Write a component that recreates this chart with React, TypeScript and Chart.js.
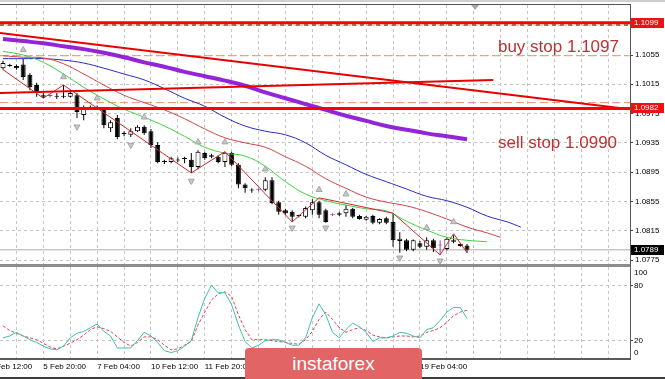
import React, { useEffect, useRef } from "react";
import { Chart, registerables } from "chart.js";

Chart.register(...registerables);

// ---------------- data ----------------
const OPEN = [1.1037,1.1041,1.1040,1.1042,1.1028,1.1014,1.1000,1.0999,1.0999,1.0998,
  1.0998,1.1000,1.0973,1.0983,1.0984,1.0983,1.0955,1.0969,1.0948,1.0946,
  1.0951,1.0957,1.0951,1.0932,1.0910,1.0909,1.0912,1.0913,1.0912,1.0902,
  1.0921,1.0916,1.0916,1.0909,1.0921,1.0905,1.0878,1.0871,1.0871,1.0871,
  1.0884,1.0854,1.0843,1.0841,1.0836,1.0834,1.0843,1.0854,1.0843,1.0837,
  1.0837,1.0839,1.0845,1.0835,1.0830,1.0835,1.0826,1.0832,1.0827,1.0801,
  1.0802,1.0789,1.0798,1.0793,1.0802,1.0795,1.0790,1.0802,1.0797,1.0795];
const HIGH = [1.1047,1.1043,1.1042,1.1050,1.1030,1.1017,1.1003,1.1001,1.1003,1.1014,
  1.1005,1.1003,1.0986,1.0986,1.0986,1.0984,1.0966,1.0973,1.0951,1.0955,
  1.0959,1.0959,1.0954,1.0936,1.0912,1.0916,1.0915,1.0916,1.0921,1.0925,
  1.0923,1.0920,1.0918,1.0923,1.0923,1.0907,1.0880,1.0873,1.0873,1.0888,
  1.0888,1.0856,1.0845,1.0843,1.0837,1.0848,1.0858,1.0856,1.0845,1.0839,
  1.0841,1.0850,1.0846,1.0837,1.0835,1.0837,1.0832,1.0834,1.0839,1.0813,
  1.0804,1.0803,1.0801,1.0806,1.0804,1.0802,1.0806,1.0809,1.0798,1.0797];
const LOW = [1.1035,1.1039,1.1035,1.1021,1.1007,1.0998,1.0996,1.0997,1.0995,1.0996,
  1.0997,1.0969,1.0966,1.0981,1.0981,1.0955,1.0950,1.0940,1.0944,1.0943,
  1.0950,1.0946,1.0928,1.0907,1.0906,1.0907,1.0909,1.0907,1.0894,1.0899,
  1.0912,1.0914,1.0907,1.0902,1.0903,1.0873,1.0867,1.0867,1.0869,1.0869,
  1.0851,1.0837,1.0837,1.0827,1.0833,1.0832,1.0837,1.0832,1.0826,1.0835,
  1.0835,1.0834,1.0832,1.0830,1.0829,1.0824,1.0824,1.0824,1.0793,1.0785,
  1.0787,1.0787,1.0791,1.0789,1.0786,1.0782,1.0788,1.0798,1.0793,1.0785];
const CLOSE = [1.1044,1.1040,1.1037,1.1025,1.1011,1.1003,1.0998,1.0999,1.0998,1.0999,
  1.1003,1.0977,1.0983,1.0984,1.0983,1.0959,1.0963,1.0943,1.0947,1.0951,
  1.0957,1.0948,1.0932,1.0909,1.0909,1.0914,1.0911,1.0914,1.0902,1.0923,
  1.0914,1.0918,1.0909,1.0921,1.0905,1.0878,1.0873,1.0870,1.0871,1.0884,
  1.0853,1.0841,1.0839,1.0834,1.0835,1.0846,1.0854,1.0837,1.0827,1.0837,
  1.0839,1.0845,1.0834,1.0831,1.0834,1.0826,1.0831,1.0826,1.0802,1.0804,
  1.0789,1.0802,1.0793,1.0802,1.0791,1.0795,1.0804,1.0800,1.0794,1.0789];

const LIPS_BARS = [0,3,6,9,12,15,18,21,24,27,30,33,36,39,42,45,48,51,54,57,60,63,66,69,72];
const LIPS = [1.1060,1.1055,1.1045,1.1029,1.1011,1.0995,1.0981,1.0970,1.0958,1.0944,1.0929,1.0921,1.0917,
  1.0903,1.0882,1.0865,1.0856,1.0850,1.0845,1.0842,1.0828,1.0816,1.0806,1.0802,1.0800];
const TEETH_BARS = [0,3,6,9,12,15,18,21,24,27,30,33,36,39,42,45,48,51,54,57,60,63,66,69,72,74];
const TEETH = [1.1054,1.1052,1.1051,1.1043,1.1029,1.1014,1.1000,1.0990,1.0980,1.0968,1.0954,1.0942,1.0935,
  1.0929,1.0916,1.0903,1.0886,1.0873,1.0861,1.0854,1.0849,1.0841,1.0831,1.0820,1.0812,1.0806];
const JAW_BARS = [0,3,6,9,12,15,18,21,24,27,30,33,36,39,42,45,48,51,54,57,60,63,66,69,72,75,77];
const JAW = [1.1050,1.1050,1.1050,1.1048,1.1044,1.1037,1.1029,1.1021,1.1009,1.0996,1.0985,1.0970,1.0958,
  1.0951,1.0946,1.0935,1.0918,1.0905,1.0892,1.0882,1.0872,1.0862,1.0856,1.0847,1.0835,1.0827,1.0820];
const SLOW_MA_BARS = [0,3,6,9,12,15,18,21,24,27,30,33,36,39,42,45,48,51,54,57,60,63,66,69];
const SLOW_MA = [1.1077,1.1074,1.1071,1.1067,1.1063,1.1058,1.1052,1.1045,1.1039,1.1032,1.1026,1.1020,
  1.1013,1.1004,1.0996,1.0988,1.0980,1.0972,1.0965,1.0958,1.0953,1.0948,1.0944,1.0940];

const ZIGZAG_BARS = [0,6,9,28,33,43,47,58,65,67,69];
const ZIGZAG = [1.1035,1.0996,1.1014,1.0894,1.0923,1.0827,1.0860,1.0839,1.0782,1.0811,1.0785];

const FRACTAL_UP_BARS = [3,9,14,21,29,33,39,47,51,63,67];
const FRACTAL_UP = [1.1062,1.1025,1.0996,1.0970,1.0936,1.0936,1.0899,1.0871,1.0865,1.0819,1.0827];
const FRACTAL_DOWN_BARS = [11,19,28,43,48,59,65];
const FRACTAL_DOWN = [1.0957,1.0932,1.0883,1.0819,1.0819,1.0778,1.0774];

const TREND_A_BARS = [-0.45, 93.2];
const TREND_A = [1.1085, 1.0981];
const TREND_B_BARS = [-0.45, 72.9];
const TREND_B = [1.1003, 1.1021];

const RED_LEVELS = [1.1099, 1.0982];
const DASH_LEVELS = [1.1054, 1.0990];
const OLIVE_LEVEL = 1.1096;
const LAST_PRICE = 1.0789;

const NOTE_TEXTS = ["buy stop 1.1097", "sell stop 1.0990"];
const NOTE_PRICES = [1.1065, 1.0934];
const NOTE_BAR = 73.6;
const SHIFT_BAR = 70.2;

const PRICE_TICKS = [1.0775,1.0815,1.0855,1.0895,1.0935,1.0975,1.1015,1.1055,1.1095];

const STOCH_MAIN = [23,25,29,25,21,18,14,11,10,14,
  23,28,30,34,38,30,25,12,12,12,
  20,29,25,18,9,7,9,14,20,45,
  66,80,72,72,59,37,19,12,15,20,
  21,21,18,15,15,23,45,60,48,29,
  23,32,39,35,29,19,23,23,25,29,
  28,25,23,32,34,42,51,56,56,44];
const STOCH_SIGNAL = [36,31,28,25,23,21,17,13,11,14,
  17,21,26,32,35,33,30,24,18,14,
  18,24,24,21,15,10,11,15,19,37,
  51,64,71,73,68,48,32,21,21,21,
  20,19,18,17,16,21,30,43,51,43,
  34,29,32,34,31,26,24,23,24,25,
  25,24,25,29,31,34,40,47,51,53];
const STOCH_LEVELS = [20, 80];
const STOCH_LABELS = [100, 80, 20, 0];

const TIME_LABEL_BARS = [-2, 6, 14, 22, 30, 38, 46, 54, 62];
const TIME_LABELS = ["4 Feb 12:00","5 Feb 20:00","7 Feb 04:00","10 Feb 12:00","11 Feb 20:00",
  "13 Feb 04:00","14 Feb 12:00","17 Feb 20:00","19 Feb 04:00"];

// ---------------- layout constants ----------------
const X_MIN = -0.4461;
const X_MAX = 93.234;
const P_MIN = 1.07682;
const P_MAX = 1.11233;
const FONT = "'Liberation Sans', Arial, sans-serif";
const GRID_COLOR = "#c4c4c4";

const gridBars: number[] = [];
for (let b = 2; b <= 90; b += 4) gridBars.push(b);

const pts = (bars: number[], vals: number[]) => bars.map((b, i) => ({ x: b, y: vals[i] }));
const hline = (v: number) => [{ x: X_MIN, y: v }, { x: X_MAX, y: v }];

function lineDs(data: any[], color: string, width: number, order: number, extra: any = {}) {
  return {
    type: "line" as const,
    data,
    borderColor: color,
    backgroundColor: color,
    borderWidth: width,
    pointRadius: 0,
    tension: 0,
    fill: false,
    order,
    ...extra,
  };
}

export default function App() {
  const mainRef = useRef<HTMLCanvasElement>(null);
  const lowRef = useRef<HTMLCanvasElement>(null);

  useEffect(() => {
    const isDoji = (i: number) => OPEN[i] === CLOSE[i];
    const wickData = HIGH.map((h, i) => ({ x: i, y: [LOW[i], h] }));
    const bodyData = OPEN.map((o, i) => ({ x: i, y: [Math.min(o, CLOSE[i]), Math.max(o, CLOSE[i])] }));
    const bodyFill = OPEN.map((o, i) => (isDoji(i) ? "#9a3fb0" : CLOSE[i] > o ? "#ffffff" : "#000000"));
    const bodyBorder = OPEN.map((o, i) => (isDoji(i) ? "#9a3fb0" : "#000000"));
    const wickColor = OPEN.map((o, i) => (isDoji(i) ? "#9a3fb0" : "#000000"));

    const mainDecor = {
      id: "mainDecor",
      afterDatasetsDraw(chart: any) {
        const { ctx, chartArea, scales } = chart;
        const x = scales.x, y = scales.y;
        ctx.save();
        ctx.beginPath();
        ctx.rect(chartArea.left, chartArea.top, chartArea.right - chartArea.left, chartArea.bottom - chartArea.top);
        ctx.clip();
        ctx.fillStyle = "#bf3030";
        ctx.font = `17px ${FONT}`;
        ctx.textAlign = "left";
        ctx.textBaseline = "middle";
        NOTE_TEXTS.forEach((t, i) => ctx.fillText(t, x.getPixelForValue(NOTE_BAR), y.getPixelForValue(NOTE_PRICES[i])));
        ctx.restore();
      },
      afterDraw(chart: any) {
        const { ctx, chartArea, scales } = chart;
        const x = scales.x, y = scales.y;
        ctx.save();
        ctx.fillStyle = "#cfcfcf";
        ctx.fillRect(0, 0, chart.width, 2);
        ctx.fillStyle = "#555555";
        ctx.fillRect(0, chartArea.top - 1, chartArea.right + 1, 1);
        ctx.fillRect(chartArea.right, chartArea.top - 1, 1, chartArea.bottom - chartArea.top + 1);
        const sx = x.getPixelForValue(SHIFT_BAR);
        ctx.fillStyle = "#a8a8a8";
        ctx.beginPath();
        ctx.moveTo(sx - 4, chartArea.top);
        ctx.lineTo(sx + 4, chartArea.top);
        ctx.lineTo(sx, chartArea.top + 5);
        ctx.closePath();
        ctx.fill();
        const boxes: [number, string][] = [[RED_LEVELS[0], "#ee1111"], [RED_LEVELS[1], "#ee1111"], [LAST_PRICE, "#000000"]];
        ctx.font = `8px ${FONT}`;
        ctx.textBaseline = "middle";
        ctx.textAlign = "left";
        boxes.forEach(([v, c]) => {
          const py = Math.round(y.getPixelForValue(v));
          ctx.fillStyle = c;
          ctx.fillRect(chartArea.right + 1, py - 5, 33, 10);
          ctx.fillStyle = "#ffffff";
          ctx.fillText(v.toFixed(4), chartArea.right + 4, py);
        });
        ctx.restore();
      },
    };

    const main = new Chart(mainRef.current as HTMLCanvasElement, {
      type: "bar",
      data: {
        datasets: [
          lineDs(hline(LAST_PRICE), "#c8c8c8", 1.5, 100),
          lineDs(hline(OLIVE_LEVEL), "#5f6b22", 1.5, 95, { borderDash: [4, 4] }),
          lineDs(hline(DASH_LEVELS[0]), "#e8946c", 1, 90, { borderDash: [8, 4] }),
          lineDs(hline(DASH_LEVELS[1]), "#e8946c", 1, 90, { borderDash: [8, 4] }),
          {
            type: "bar" as const,
            data: wickData as any,
            backgroundColor: wickColor,
            borderWidth: 0,
            barThickness: 1,
            grouped: false,
            inflateAmount: 0,
            order: 80,
          },
          {
            type: "bar" as const,
            data: bodyData as any,
            backgroundColor: bodyFill,
            borderColor: bodyBorder,
            borderWidth: 1,
            borderSkipped: false,
            barThickness: 5,
            minBarLength: 1,
            grouped: false,
            inflateAmount: 0,
            order: 79,
          },
          lineDs(pts(JAW_BARS, JAW), "#2a2ac8", 1, 70, { tension: 0.4 }),
          lineDs(pts(TEETH_BARS, TEETH), "#d04545", 1, 69, { tension: 0.4 }),
          lineDs(pts(LIPS_BARS, LIPS), "#3fd23f", 1, 68, { tension: 0.4 }),
          lineDs(pts(SLOW_MA_BARS, SLOW_MA), "#9424d8", 4, 60, { tension: 0.4 }),
          lineDs(pts(ZIGZAG_BARS, ZIGZAG), "#c42a2a", 1, 55),
          lineDs(pts(FRACTAL_UP_BARS, FRACTAL_UP), "#a8a8a8", 1, 50, {
            showLine: false, pointRadius: 3.5, pointStyle: "triangle", pointRotation: 0,
            pointBackgroundColor: "#c8c8c8", pointBorderColor: "#a4a4a4",
          }),
          lineDs(pts(FRACTAL_DOWN_BARS, FRACTAL_DOWN), "#a8a8a8", 1, 50, {
            showLine: false, pointRadius: 3.5, pointStyle: "triangle", pointRotation: 180,
            pointBackgroundColor: "#c8c8c8", pointBorderColor: "#a4a4a4",
          }),
          lineDs(pts(TREND_B_BARS, TREND_B), "#e80000", 2, 45),
          lineDs(pts(TREND_A_BARS, TREND_A), "#e80000", 2, 44),
          lineDs(hline(RED_LEVELS[0]), "#ff0000", 3, 40),
          lineDs(hline(RED_LEVELS[1]), "#ff0000", 3, 40),
        ] as any,
      },
      options: {
        animation: false,
        responsive: false,
        devicePixelRatio: 1,
        layout: { autoPadding: false, padding: { top: 5, bottom: 1, left: 0, right: 0 } },
        plugins: { legend: { display: false }, tooltip: { enabled: false } },
        scales: {
          x: {
            type: "linear",
            min: X_MIN,
            max: X_MAX,
            offset: false,
            afterBuildTicks: (s: any) => { s.ticks = gridBars.map((v) => ({ value: v })); },
            afterFit: (s: any) => { s.height = 0; s.paddingLeft = 0; s.paddingRight = 0; },
            ticks: { display: false },
            grid: { color: GRID_COLOR, drawTicks: false, offset: false },
            border: { display: false, dash: [3, 3] },
          },
          y: {
            type: "linear",
            position: "right",
            min: P_MIN,
            max: P_MAX,
            afterBuildTicks: (s: any) => { s.ticks = PRICE_TICKS.map((v) => ({ value: v })); },
            afterFit: (s: any) => { s.width = 35; s.paddingTop = 0; s.paddingBottom = 0; },
            ticks: {
              color: "#000000",
              font: { family: FONT, size: 8 },
              padding: 2,
              autoSkip: false,
              callback: (v: any) => Number(v).toFixed(4),
            },
            grid: { color: GRID_COLOR, tickLength: 3, tickColor: "#444444" },
            border: { display: false, dash: [3, 3] },
          },
        },
      } as any,
      plugins: [mainDecor],
    });

    const lowDecor = {
      id: "lowDecor",
      afterDraw(chart: any) {
        const { ctx, chartArea, scales } = chart;
        const y = scales.y;
        ctx.save();
        ctx.fillStyle = "#8c8c8c";
        ctx.fillRect(0, chartArea.top - 3, chartArea.right + 1, 3);
        ctx.fillStyle = "#5a5a5a";
        ctx.fillRect(0, chartArea.bottom - 1, chartArea.right + 1, 2);
        ctx.fillRect(chartArea.right, chartArea.top - 3, 1, chartArea.bottom - chartArea.top + 3);
        ctx.font = `8px ${FONT}`;
        ctx.fillStyle = "#000000";
        ctx.textAlign = "left";
        ctx.textBaseline = "middle";
        STOCH_LABELS.forEach((v) => {
          let py = y.getPixelForValue(v);
          if (v === 100) py += 6;
          if (v === 0) py -= 6;
          ctx.fillText(String(v), chartArea.right + 4, py);
        });
        ctx.fillStyle = "#3c3c3c";
        ctx.fillRect(0, chart.height - 2, chart.width, 2);
        ctx.restore();
      },
    };

    const low = new Chart(lowRef.current as HTMLCanvasElement, {
      type: "line",
      data: {
        datasets: [
          lineDs(STOCH_SIGNAL.map((v, i) => ({ x: i, y: v })), "#e0404a", 1, 2, { borderDash: [3, 2] }),
          lineDs(STOCH_MAIN.map((v, i) => ({ x: i, y: v })), "#3fbfae", 1, 1),
        ] as any,
      },
      options: {
        animation: false,
        responsive: false,
        devicePixelRatio: 1,
        layout: { autoPadding: false, padding: { top: 5, bottom: 0, left: 0, right: 0 } },
        plugins: { legend: { display: false }, tooltip: { enabled: false } },
        scales: {
          x: {
            type: "linear",
            min: X_MIN,
            max: X_MAX,
            afterBuildTicks: (s: any) => { s.ticks = [-2, ...gridBars].map((v) => ({ value: v })); },
            afterFit: (s: any) => { s.height = 20; s.paddingLeft = 0; s.paddingRight = 0; },
            ticks: {
              align: "start",
              autoSkip: false,
              maxRotation: 0,
              minRotation: 0,
              padding: 3,
              color: "#000000",
              font: { family: FONT, size: 8 },
              callback: (v: any) => {
                const i = TIME_LABEL_BARS.indexOf(Number(v));
                return i >= 0 ? TIME_LABELS[i] : "";
              },
            },
            grid: { color: GRID_COLOR, drawTicks: false },
            border: { display: false, dash: [3, 3] },
          },
          y: {
            type: "linear",
            position: "right",
            min: 0,
            max: 100,
            afterBuildTicks: (s: any) => { s.ticks = STOCH_LEVELS.map((v) => ({ value: v })); },
            afterFit: (s: any) => { s.width = 35; s.paddingTop = 0; s.paddingBottom = 0; },
            ticks: { display: false },
            grid: { color: GRID_COLOR, tickLength: 3, tickColor: "#444444" },
            border: { display: false, dash: [3, 3] },
          },
        },
      } as any,
      plugins: [lowDecor],
    });

    return () => {
      main.destroy();
      low.destroy();
    };
  }, []);

  return (
    <div style={{ position: "fixed", left: 0, top: 0, width: 665, height: 379, background: "#ffffff", overflow: "hidden" }}>
      <canvas ref={mainRef} width={665} height={266} style={{ position: "absolute", left: 0, top: 0, width: 665, height: 266 }} />
      <canvas ref={lowRef} width={665} height={117} style={{ position: "absolute", left: 0, top: 262, width: 665, height: 117 }} />
      <div
        style={{
          position: "absolute",
          left: 245,
          top: 348,
          width: 177,
          height: 31,
          background: "#e26464",
          borderRadius: "4px 4px 0 0",
          color: "#ffffff",
          fontFamily: FONT,
          fontSize: 19,
          lineHeight: "31px",
          textAlign: "center",
        }}
      >
        instaforex
      </div>
    </div>
  );
}
